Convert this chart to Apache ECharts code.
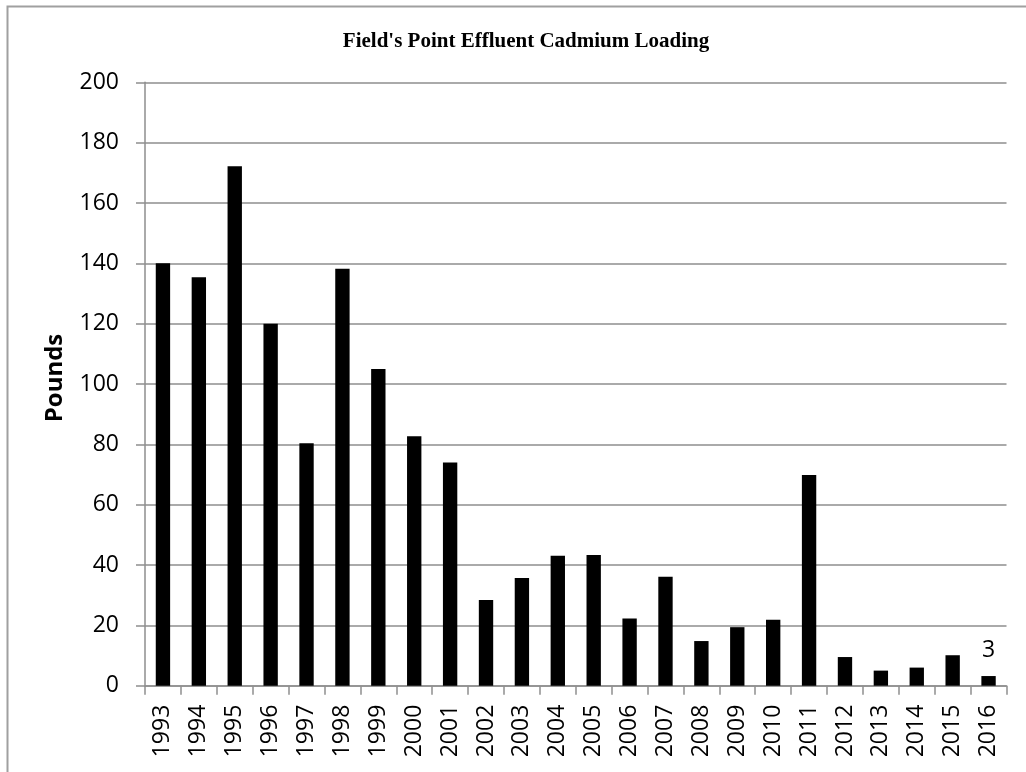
<!DOCTYPE html>
<html>
<head>
<meta charset="utf-8">
<script src="https://cdn.jsdelivr.net/npm/echarts@6/dist/echarts.min.js"></script>
<style>
html,body{margin:0;padding:0;background:#fff;}
#chart{width:1026px;height:772px;}
</style>
</head>
<body>
<div id="chart"></div>
<script>
const categories = ['1993','1994','1995','1996','1997','1998','1999','2000','2001','2002','2003','2004','2005','2006','2007','2008','2009','2010','2011','2012','2013','2014','2015','2016'];
const pounds = [140, 135.4, 172.2, 120, 80.4, 138.2, 105, 82.7, 74, 28.4, 35.7, 43.1, 43.3, 22.3, 36.1, 14.8, 19.4, 21.9, 69.8, 9.5, 5, 6, 10.1, 3.2];
const labelledYear = '2016';
const labelText = '3';
const yTicks = {min: 0, max: 200, interval: 20};

const chart = echarts.init(document.getElementById('chart'), null, {renderer: 'canvas'});
const axisGray = '#8e8e8e';
const seriesData = pounds.map((v, i) => categories[i] === labelledYear ? {
  value: v,
  label: {show: true, position: 'top', distance: 14, formatter: labelText,
    fontFamily: 'Open Sans', fontSize: 23, color: '#000'}
} : v);

chart.setOption({
  animation: false,
  backgroundColor: '#fff',
  title: {
    text: "Field's Point Effluent Cadmium Loading",
    left: 521, top: 26, textAlign: 'center',
    textStyle: {fontFamily: 'Liberation Serif', fontWeight: 'bold', fontSize: 21, color: '#000'}
  },
  grid: {left: 145, right: 19.5, top: 82.3, bottom: 86.3, containLabel: false},
  xAxis: {
    type: 'category',
    data: categories,
    boundaryGap: true,
    axisLine: {show: true, lineStyle: {color: axisGray, width: 1.5}},
    axisTick: {show: true, alignWithLabel: false, length: 9, lineStyle: {color: axisGray, width: 1.5}},
    axisLabel: {rotate: 90, margin: 19, interval: 0, fontFamily: 'Open Sans', fontSize: 23, color: '#000'},
    splitLine: {show: false}
  },
  yAxis: {
    type: 'value',
    min: yTicks.min, max: yTicks.max, interval: yTicks.interval,
    axisLine: {show: true, lineStyle: {color: axisGray, width: 1.5}},
    axisTick: {show: true, length: 9, lineStyle: {color: axisGray, width: 1.5}},
    axisLabel: {margin: 26, fontFamily: 'Open Sans', fontSize: 23, color: '#000'},
    splitLine: {show: true, lineStyle: {color: axisGray, width: 1.5}}
  },
  graphic: [
    {type: 'rect', left: 5, top: 4, silent: true, z: -1,
      shape: {x: 0, y: 0, width: 1100, height: 900},
      style: {fill: 'none', stroke: '#a0a0a0', lineWidth: 2}},
    {type: 'text', x: 55, y: 378, rotation: Math.PI / 2,
      style: {text: 'Pounds', fontFamily: 'Open Sans', fontWeight: 'bold', fontSize: 24,
        fill: '#000', align: 'center', verticalAlign: 'middle'}}
  ],
  series: [{
    type: 'bar',
    data: seriesData,
    barWidth: '40%',
    itemStyle: {color: '#000'}
  }]
});
</script>
</body>
</html>
